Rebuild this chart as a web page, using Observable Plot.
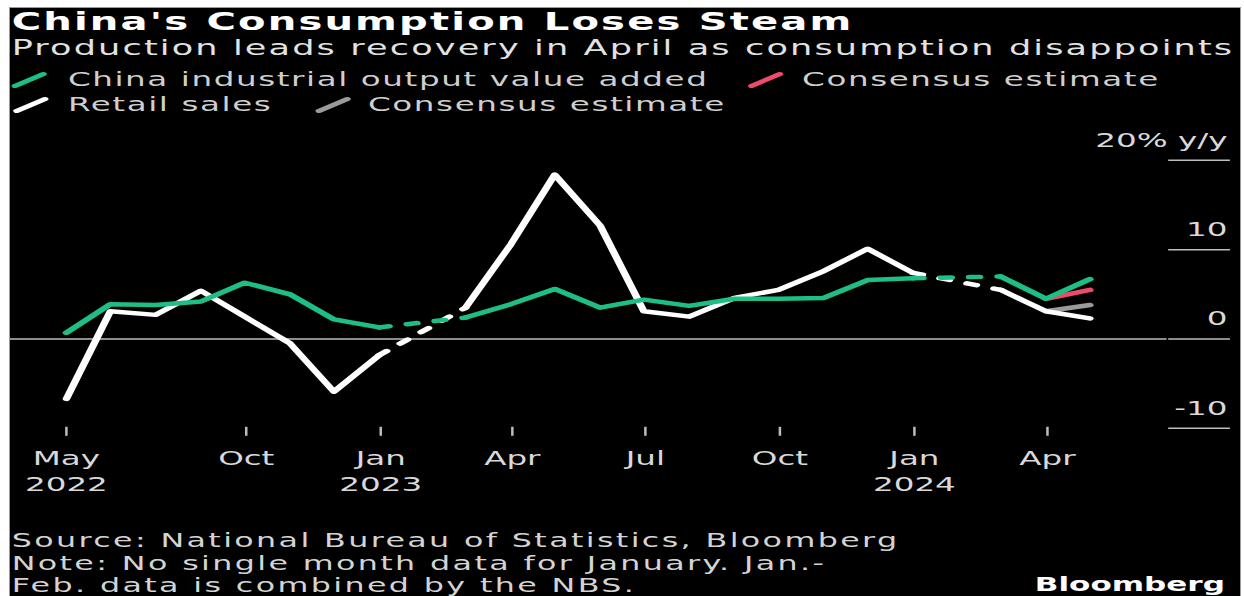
<!DOCTYPE html>
<html>
<head>
<meta charset="utf-8">
<script src="https://cdn.jsdelivr.net/npm/d3@7"></script>
<script src="https://cdn.jsdelivr.net/npm/@observablehq/plot@0.6"></script>
<style>
html, body { margin: 0; padding: 0; background: #fff; width: 1244px; height: 596px; overflow: hidden; }
#box { position: absolute; left: 9px; top: 7px; width: 1230px; height: 600px; background: #000;
  border-left: 1px solid #9a9a9a; border-top: 1px solid #9a9a9a; border-right: 1px solid #9a9a9a; }
#stretch { position: absolute; left: 0; top: 0; width: 736.5px; height: 600px;
  transform: scaleX(1.67); transform-origin: 0 0; font-family: "DejaVu Sans", sans-serif; }
.t { position: absolute; white-space: nowrap; line-height: normal; }
#title { left: 1px; top: 0px; font-size: 24px; letter-spacing: 1.3px; font-weight: bold; color: #fff; }
#subtitle { left: 1px; top: 27.5px; font-size: 21px; letter-spacing: 1.28px; color: #e2e2e2; }
.lg { font-size: 19.5px; letter-spacing: 0.95px; color: #cfcfcf; }
.sw { position: absolute; width: 21px; height: 17px; overflow: visible; }
#chart { position: absolute; left: 0; top: 110px; }
#caption { position: absolute; left: 1px; top: 521.4px; font-size: 19px; letter-spacing: 1.42px; line-height: 22.2px; color: #d4d4d4; white-space: nowrap; }
#logo { position: absolute; right: 9px; top: 565.7px; font-weight: bold; font-size: 18.6px; line-height: normal; color: #fff; }
</style>
</head>
<body>
<div id="box">
  <div id="stretch">
    <div id="title" class="t">China's Consumption Loses Steam</div>
    <div id="subtitle" class="t">Production leads recovery in April as consumption disappoints</div>
    <div id="legend"></div>
    <div id="chart"></div>
    <div id="caption">Source: National Bureau of Statistics, Bloomberg<br>Note: No single month data for January. Jan.-<br>Feb. data is combined by the NBS.</div>
    <div id="logo">Bloomberg</div>
  </div>
</div>
<script>
// ---- data ----
const months = [
  "2022-05","2022-06","2022-07","2022-08","2022-09","2022-10","2022-11","2022-12",
  "2023-01","2023-02","2023-03","2023-04","2023-05","2023-06","2023-07","2023-08","2023-09","2023-10","2023-11","2023-12",
  "2024-01","2024-02","2024-03","2024-04"
];
const ipValues = [
  0.7, 3.9, 3.8, 4.2, 6.3, 5.0, 2.2, 1.3,
  null, 2.4, 3.9, 5.6, 3.5, 4.4, 3.7, 4.5, 4.5, 4.6, 6.6, 6.8,
  null, 7.0, 4.5, 6.7
];
const retailValues = [
  -6.7, 3.1, 2.7, 5.4, 2.5, -0.5, -5.9, -1.8,
  null, 3.5, 10.6, 18.4, 12.7, 3.1, 2.5, 4.6, 5.5, 7.6, 10.1, 7.4,
  null, 5.5, 3.1, 2.3
];
const consensusMonths = ["2024-03", "2024-04"];
const ipConsensus = [4.5, 5.5];
const retailConsensus = [3.1, 3.8];

const tickDates = ["2022-05-31","2022-10-01","2023-01-01","2023-04-01","2023-07-01","2023-10-01","2024-01-01","2024-04-01"];
const tickMonths = ["May","Oct","Jan","Apr","Jul","Oct","Jan","Apr"];
const tickYears = ["2022","","2023","","","","2024",""];
const yTicks = [-10, 0, 10, 20];

const seriesNames = ["China industrial output value added", "Consensus estimate", "Retail sales", "Consensus estimate"];
const seriesColors = ["#1dbf85", "#ee4a6a", "#ffffff", "#9a9a9a"];

// ---- helpers ----
const monthEnd = s => { const [y, m] = s.split("-").map(Number); return new Date(Date.UTC(y, m, 0)); };
const rows = months.map((m, i) => ({date: monthEnd(m), ip: ipValues[i], retail: retailValues[i]}));
function gapSegments(key) {
  const segs = [];
  rows.forEach((d, i) => {
    if (d[key] == null) {
      const a = rows[i - 1], b = rows[i + 1];
      if (a && b) segs.push({date: a.date, v: a[key], seg: i}, {date: b.date, v: b[key], seg: i});
    }
  });
  return segs;
}
const consRows = consensusMonths.map((m, i) => ({date: monthEnd(m), ip: ipConsensus[i], retail: retailConsensus[i]}));
const ticks = tickDates.map(d => new Date(d + "T00:00:00Z"));

// ---- legend ----
const legendLayout = [
  {left: 1.2, textLeft: 34.7, top: 59.65},
  {left: 441.9, textLeft: 474.3, top: 59.65},
  {left: 2.4, textLeft: 34.7, top: 84.65},
  {left: 182.6, textLeft: 214.4, top: 84.65}
];
const legend = document.getElementById("legend");
seriesNames.forEach((name, i) => {
  const L = legendLayout[i];
  const sw = document.createElementNS("http://www.w3.org/2000/svg", "svg");
  sw.setAttribute("class", "sw");
  sw.setAttribute("viewBox", "0 0 21 17");
  sw.style.left = L.left + "px";
  sw.style.top = (L.top + 2.85) + "px";
  sw.innerHTML = `<line x1="2" y1="15" x2="19" y2="3" stroke="${seriesColors[i]}" stroke-width="4" stroke-linecap="round"/>`;
  legend.appendChild(sw);
  const tx = document.createElement("div");
  tx.className = "t lg";
  tx.style.left = L.textLeft + "px";
  tx.style.top = L.top + "px";
  tx.textContent = name;
  legend.appendChild(tx);
});

// ---- chart ----
const lineW = 4.5;
const chart = Plot.plot({
  width: 737,
  height: 381,
  marginLeft: 0,
  marginRight: 44,
  marginTop: 15,
  marginBottom: 62,
  style: {background: "transparent", color: "#d9d9d9", fontFamily: "DejaVu Sans, sans-serif", fontSize: "19.5px", overflow: "visible"},
  x: {type: "utc", domain: [new Date("2022-04-23T00:00:00Z"), new Date("2024-06-22T00:00:00Z")]},
  y: {domain: [-11, 23]},
  marks: [
    Plot.ruleY([0], {stroke: "#bdbdbd", strokeWidth: 1.5}),
    Plot.axisY(yTicks, {anchor: "right", tickSize: 37, tickFormat: () => "", label: null, stroke: "#bdbdbd", strokeWidth: 1.5}),
    Plot.text(yTicks, {y: d => d, text: d => d === 20 ? "20% y/y" : String(d), frameAnchor: "right", textAnchor: "end", dx: 36, dy: -20, fill: "#d9d9d9"}),
    Plot.axisX(ticks, {tickSize: 9, dy: -10, tickFormat: () => "", label: null, stroke: "#bdbdbd", strokeWidth: 1.5}),
    Plot.text(ticks, {x: d => d, text: (d, i) => tickMonths[i], frameAnchor: "bottom", dy: 28, fill: "#d9d9d9"}),
    Plot.text(ticks, {x: d => d, text: (d, i) => tickYears[i], frameAnchor: "bottom", dy: 54, fill: "#d9d9d9"}),
    // consensus
    Plot.line(consRows, {x: "date", y: "retail", stroke: seriesColors[3], strokeWidth: lineW}),
    Plot.line(consRows, {x: "date", y: "ip", stroke: seriesColors[1], strokeWidth: lineW}),
    // retail sales
    Plot.line(gapSegments("retail"), {x: "date", y: "v", z: "seg", stroke: seriesColors[2], strokeWidth: lineW, strokeDasharray: "6,11"}),
    Plot.line(rows, {x: "date", y: "retail", stroke: seriesColors[2], strokeWidth: lineW}),
    // industrial output
    Plot.line(gapSegments("ip"), {x: "date", y: "v", z: "seg", stroke: seriesColors[0], strokeWidth: lineW, strokeDasharray: "6,11"}),
    Plot.line(rows, {x: "date", y: "ip", stroke: seriesColors[0], strokeWidth: lineW})
  ]
});
document.getElementById("chart").appendChild(chart);
</script>
</body>
</html>
